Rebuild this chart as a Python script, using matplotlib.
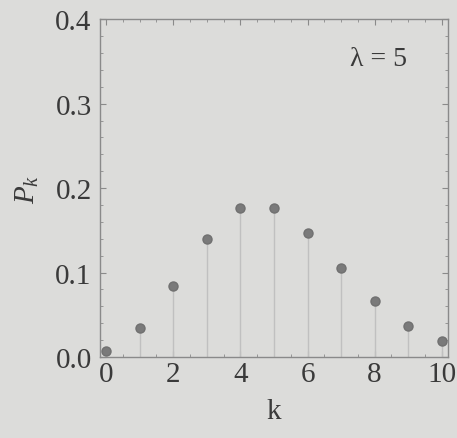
import numpy as np
import matplotlib.pyplot as plt
from matplotlib.ticker import MultipleLocator

# Poisson probabilities (lambda = 5)
k = [0, 1, 2, 3, 4, 5, 6, 7, 8, 9, 10]
pk = [0.007, 0.034, 0.084, 0.140, 0.176, 0.176, 0.147, 0.105, 0.066, 0.037, 0.019]
xticks = [0, 2, 4, 6, 8, 10]
yticks = [0.0, 0.1, 0.2, 0.3, 0.4]

plt.rcParams['font.family'] = ['Liberation Serif', 'DejaVu Serif']
plt.rcParams['mathtext.fontset'] = 'custom'
plt.rcParams['mathtext.it'] = 'Liberation Serif:italic'
plt.rcParams['mathtext.rm'] = 'Liberation Serif'

bg = '#dcdcda'
fig = plt.figure(figsize=(4.57, 4.39), dpi=100, facecolor=bg)
ax = fig.add_axes([0.219, 0.1845, 0.761, 0.7695])
ax.set_facecolor(bg)

ax.vlines(k, 0, pk, color='#c0c0c0', lw=1.0)
ax.plot(k, pk, 'o', color='#7a7a7a', ms=6.5, mec='#707070')

ax.set_xlim(-0.18, 10.18)
ax.set_ylim(0, 0.4)
ax.set_xticks(xticks)
ax.set_yticks(yticks)
ax.set_yticklabels(['%.1f' % v for v in yticks])
ax.xaxis.set_minor_locator(MultipleLocator(0.5))
ax.yaxis.set_minor_locator(MultipleLocator(0.02))
ax.tick_params(which='both', direction='in', top=True, right=True,
               color='#8a8a8a', labelsize=21, labelcolor='#3a3a3a')
ax.tick_params(which='major', length=4, width=0.8)
ax.tick_params(which='minor', length=2, width=0.6)
ax.tick_params(axis='x', pad=3)
ax.tick_params(axis='y', pad=6)
for s in ax.spines.values():
    s.set_color('#8a8a8a')
    s.set_linewidth(1.0)

ax.set_xlabel('k', fontsize=21, color='#3a3a3a', labelpad=8)
ax.set_ylabel(r'$P_k$', fontsize=21, color='#3a3a3a', labelpad=10)
ax.text(8.1, 0.353, 'λ = 5', fontsize=20, color='#3a3a3a',
        ha='center', va='center')

fig.savefig('out.png', dpi=100, facecolor=bg)
